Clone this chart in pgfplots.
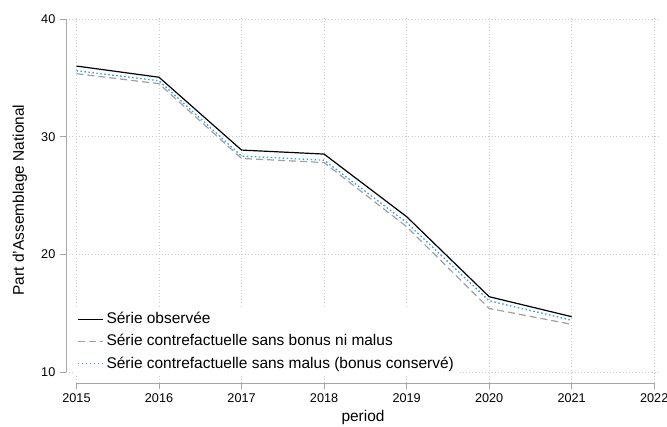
\documentclass[border=0pt]{standalone}
\usepackage{fontspec}
\setmainfont{Liberation Sans}
\usepackage{pgfplots}
\pgfplotsset{compat=1.18}
\definecolor{obs}{RGB}{0,0,0}
\definecolor{cfgray}{RGB}{160,160,160}
\definecolor{cfblue}{RGB}{60,165,230}
\begin{document}
\begin{tikzpicture}
\useasboundingbox (-49.5pt,-33pt) rectangle (450.75pt,287.25pt);
\begin{axis}[
  at={(0,0)}, anchor=south west,
  scale only axis, width=445.5pt, height=274.5pt,
  xmin=2014.873, xmax=2022.07, ymin=9.065, ymax=40.17,
  axis x line*=bottom, axis y line*=left,
  axis line style={draw=none},
  clip=false,
  xtick={2015,2016,2017,2018,2019,2020,2021,2022},
  ytick={10,20,30,40},
  grid=major,
  major grid style={draw=gray!40, dotted, line width=0.6pt},
  tick align=outside, major tick length=4.5pt,
  major tick style={draw=gray!70, line width=0.6pt},
  /pgf/number format/assume math mode=true,
  xticklabel style={font=\fontsize{9.5}{11}\selectfont, /pgf/number format/1000 sep={}},
  yticklabel style={font=\fontsize{9.5}{11}\selectfont},
  xlabel={period},
  ylabel={Part d'Assemblage National},
  every axis x label/.style={at={(axis description cs:0.5,-0.093)}, anchor=center, font=\fontsize{11.6}{14}\selectfont},
  every axis y label/.style={at={(axis description cs:-0.0775,0.5)}, anchor=center, rotate=90, font=\fontsize{11.6}{14}\selectfont},
  legend cell align=left,
  legend style={at={(axis description cs:0.015,0.022)}, anchor=south west,
    draw=none, fill=white, font=\fontsize{11.6}{14}\selectfont,
    row sep=2.5pt, inner sep=1.5pt},
  legend image code/.code={\draw[#1] (0pt,0pt) -- (15pt,0pt); \path (0pt,0pt) -- (19pt,0pt);},
]
\draw[gray!70, line width=0.6pt] (axis cs:2014.873,10) -- (axis cs:2014.873,40);
\draw[gray!70, line width=0.6pt] (axis cs:2015,9.065) -- (axis cs:2022,9.065);
\addplot[obs, line width=0.9pt] coordinates {
 (2015,36.0) (2016,35.05) (2017,28.86) (2018,28.52) (2019,23.2) (2020,16.4) (2021,14.7)};
\addlegendentry{Série observée}
\addplot[cfgray, line width=0.9pt, dash pattern=on 5.25pt off 3pt] coordinates {
 (2015,35.35) (2016,34.5) (2017,28.15) (2018,27.8) (2019,22.35) (2020,15.4) (2021,14.05)};
\addlegendentry{Série contrefactuelle sans bonus ni malus}
\addplot[cfblue, line width=1pt, dash pattern=on 1.2pt off 1.8pt] coordinates {
 (2015,35.6) (2016,34.75) (2017,28.35) (2018,28.0) (2019,22.7) (2020,16.05) (2021,14.4)};
\addlegendentry{Série contrefactuelle sans malus (bonus conservé)}
\end{axis}
\end{tikzpicture}
\end{document}
